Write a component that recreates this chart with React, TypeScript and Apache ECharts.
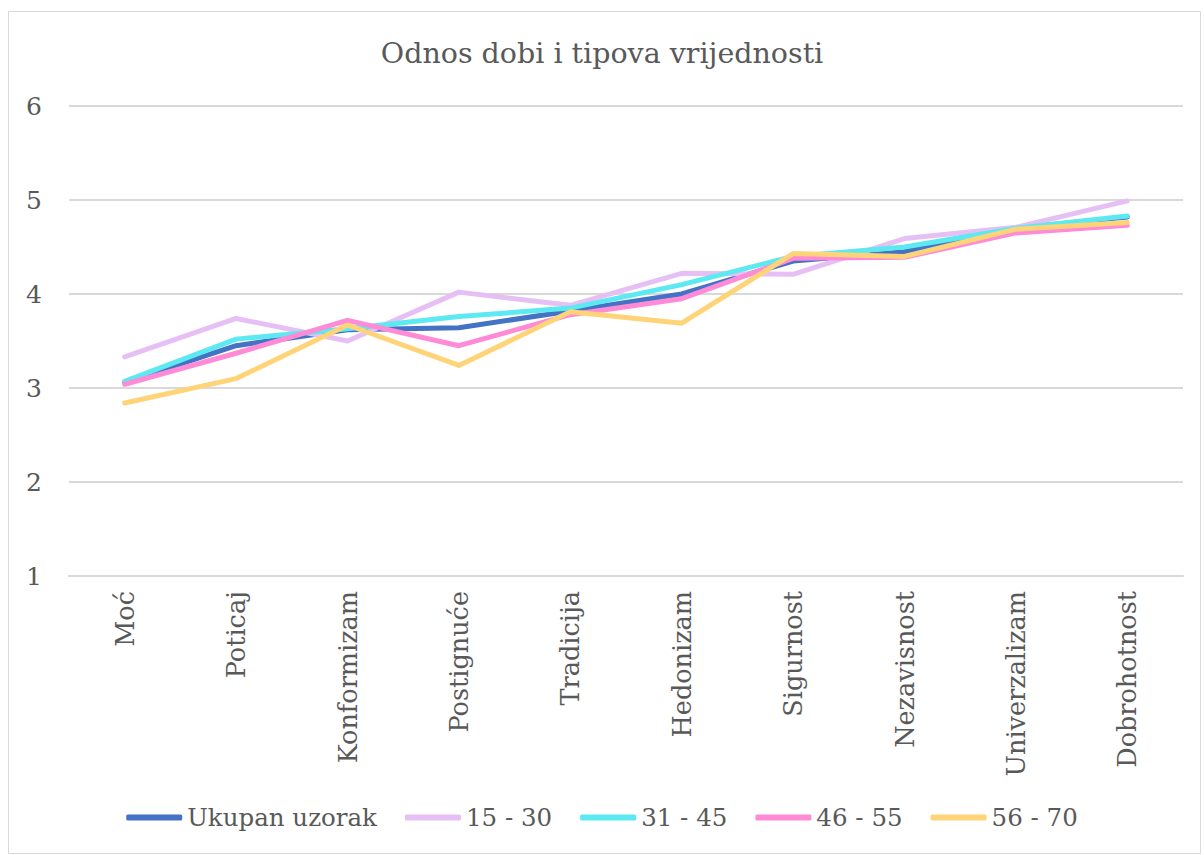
import React, { useEffect, useRef } from "react";
import * as echarts from "echarts";

const categories = ["Moć", "Poticaj", "Konformizam", "Postignuće", "Tradicija", "Hedonizam", "Sigurnost", "Nezavisnost", "Univerzalizam", "Dobrohotnost"];
const seriesNames = ["Ukupan uzorak", "15 - 30", "31 - 45", "46 - 55", "56 - 70"];
const ukupan = [3.06, 3.45, 3.62, 3.64, 3.82, 4.0, 4.35, 4.45, 4.7, 4.82];
const g15_30 = [3.33, 3.74, 3.5, 4.02, 3.88, 4.22, 4.21, 4.59, 4.71, 4.99];
const g31_45 = [3.07, 3.52, 3.63, 3.76, 3.85, 4.1, 4.4, 4.5, 4.7, 4.83];
const g46_55 = [3.04, 3.37, 3.72, 3.45, 3.78, 3.95, 4.38, 4.39, 4.65, 4.73];
const g56_70 = [2.84, 3.1, 3.67, 3.24, 3.81, 3.69, 4.43, 4.4, 4.69, 4.76];
const yTicks = [1, 2, 3, 4, 5, 6];
const colors = ["#4472C4", "#E6C0F4", "#5CE9F2", "#FF8AD6", "#FFD478"];

const FONT = "DejaVu Serif";

export default function App() {
  const ref = useRef<HTMLDivElement>(null);
  useEffect(() => {
    if (!ref.current) return;
    const chart = echarts.init(ref.current, undefined, { renderer: "svg" });
    const data = [ukupan, g15_30, g31_45, g46_55, g56_70];
    chart.setOption({
      animation: false,
      backgroundColor: "#ffffff",
      textStyle: { fontFamily: FONT },
      title: {
        text: "Odnos dobi i tipova vrijednosti",
        left: "center",
        top: 34,
        textStyle: { fontFamily: FONT, fontSize: 28.5, fontWeight: "normal", color: "#595959" },
      },
      graphic: [
        {
          type: "rect",
          shape: { x: 8.5, y: 11.5, width: 1192, height: 842 },
          style: { fill: "none", stroke: "#D9D9D9", lineWidth: 1 },
          silent: true,
        },
      ],
      legend: {
        bottom: 20,
        left: "center",
        itemWidth: 56,
        itemHeight: 6,
        itemGap: 28,
        icon: "roundRect",
        data: seriesNames,
        textStyle: { fontFamily: FONT, fontSize: 24.5, color: "#595959" },
      },
      grid: { left: 69, right: 21, top: 106, bottom: 279 },
      xAxis: {
        type: "category",
        data: categories,
        boundaryGap: true,
        axisLine: { show: true, lineStyle: { color: "#D9D9D9", width: 2 } },
        axisTick: { show: false },
        axisLabel: { rotate: 90, fontFamily: FONT, fontSize: 25.5, color: "#595959", margin: 15, interval: 0 },
      },
      yAxis: {
        type: "value",
        min: yTicks[0],
        max: yTicks[yTicks.length - 1],
        interval: 1,
        axisLine: { show: false },
        axisTick: { show: false },
        splitLine: { lineStyle: { color: "#D9D9D9", width: 2 } },
        axisLabel: { fontFamily: FONT, fontSize: 25, color: "#595959", margin: 43, align: "left" },
      },
      series: seriesNames.map((name, i) => ({
        name,
        type: "line",
        data: data[i],
        symbol: "none",
        color: colors[i],
        lineStyle: { width: 5, color: colors[i], cap: "round", join: "round" },
        itemStyle: { color: colors[i] },
      })),
    });
    return () => chart.dispose();
  }, []);
  return <div ref={ref} style={{ width: 1204, height: 855, position: "absolute", left: 0, top: 0 }} />;
}
